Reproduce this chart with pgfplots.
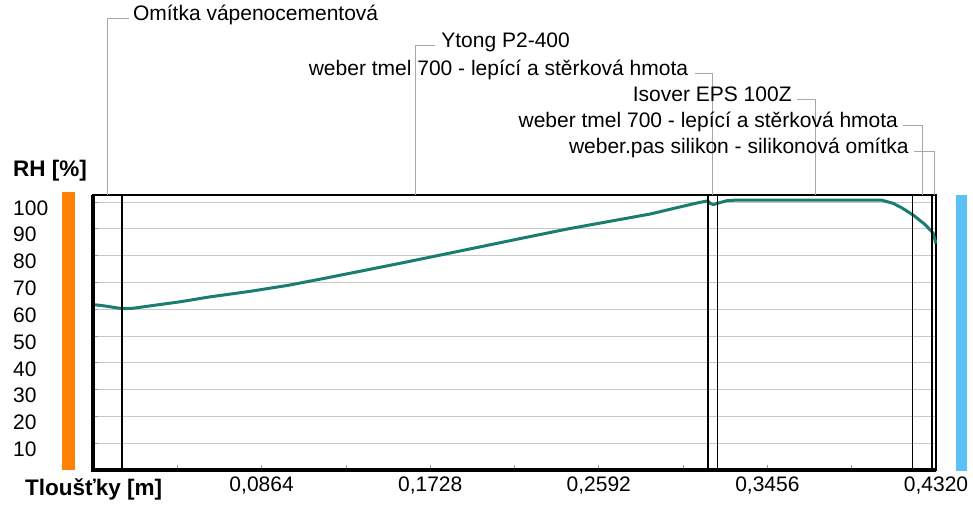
\documentclass[border=0pt]{standalone}
\usepackage{fontspec}
\setmainfont{Liberation Sans}
\usepackage{pgfplots}
\pgfplotsset{compat=1.18}
\usepackage{pgfplotstable}
\definecolor{curvecol}{HTML}{197D72}
\definecolor{orangebar}{HTML}{FF8205}
\definecolor{bluebar}{HTML}{5AC0F5}
\definecolor{gridcol}{HTML}{C8C8C8}
\definecolor{leadcol}{HTML}{A8A8A8}

\pgfplotstableread{
x rh
0.0000 61.7
0.0040 61.4
0.0080 61.0
0.0120 60.5
0.0155 60.2
0.0200 60.3
0.0300 61.3
0.0450 62.8
0.0600 64.6
0.0800 66.6
0.1000 68.9
0.1200 71.7
0.1400 74.6
0.1600 77.5
0.1800 80.5
0.2000 83.5
0.2200 86.5
0.2430 89.9
0.2650 92.8
0.2855 95.5
0.3000 98.0
0.3100 99.7
0.3150 100.4
0.3165 99.4
0.3180 99.0
0.3200 99.5
0.3250 100.5
0.3300 100.7
0.4040 100.7
0.4100 99.5
0.4145 97.8
0.4205 95.0
0.4265 91.5
0.4305 88.4
0.4320 84.5
}\rhdata

\tikzset{lead/.style={draw=leadcol, line width=0.8pt},
  lbl/.style={font=\fontsize{21}{25}\selectfont, inner sep=0pt}}

\begin{document}
\begin{tikzpicture}
\path[use as bounding box] (0pt,0pt) rectangle (973pt,508pt);
\fill[orangebar] (62pt,38pt) rectangle (75pt,316pt);
\fill[bluebar] (956pt,37pt) rectangle (967pt,313pt);
\node[anchor=west, inner sep=0pt, font=\bfseries\fontsize{22.5}{26}\selectfont] at (13pt,337pt) {RH [\%]};
\node[anchor=west, inner sep=0pt, font=\bfseries\fontsize{22.5}{26}\selectfont] at (25pt,19pt) {Tloušťky [m]};
\begin{axis}[
  at={(93pt,38pt)}, anchor=south west,
  scale only axis, width=843pt, height=275pt,
  xmin=0, xmax=0.432, ymin=0, ymax=102.6,
  clip=false,
  axis line style={black, line width=1.6pt},
  ymajorgrids=true,
  grid style={gridcol, line width=0.8pt},
  ytick={10,20,...,100},
  xtick={0.0864,0.1728,0.2592,0.3456,0.432},
  minor xtick={0.0432,0.1296,0.216,0.3024,0.3888},
  tick pos=left, tick align=inside,
  major tick length=5pt, minor tick length=5pt,
  tick style={gray!80, line width=0.8pt},
  /pgf/number format/assume math mode=true,
  tick label style={font=\fontsize{21}{25}\selectfont},
  yticklabel style={anchor=west, inner sep=0pt, xshift=-80pt, yshift=-6pt},
  xticklabel style={yshift=-3pt, /pgf/number format/.cd, fixed, fixed zerofill, precision=4, use comma},
]
\addplot[curvecol, line width=3pt, line join=round] table[x=x, y=rh] {\rhdata};
\addplot[black, line width=1.7pt, forget plot] coordinates {(0.015,0) (0.015,102.6)};
\addplot[black, line width=1.7pt, forget plot] coordinates {(0.315,0) (0.315,102.6)};
\addplot[black, line width=1.7pt, forget plot] coordinates {(0.320,0) (0.320,102.6)};
\addplot[black, line width=1.7pt, forget plot] coordinates {(0.420,0) (0.420,102.6)};
\addplot[black, line width=1.7pt, forget plot] coordinates {(0.430,0) (0.430,102.6)};
\draw[black, line width=3.2pt] (rel axis cs:0,1) -- (rel axis cs:0,0) -- (rel axis cs:1,0);
% leader lines and layer names
\draw[lead] (axis cs:0.0075,102.6) -- ++(0pt,177pt) -- ++(21pt,0pt) node[lbl, anchor=mid west, xshift=4pt] {Omítka vápenocementová};
\draw[lead] (axis cs:0.165,102.6) -- ++(0pt,150pt) -- ++(20pt,0pt) node[lbl, anchor=mid west, xshift=6pt] {Ytong P2-400};
\draw[lead] (axis cs:0.3175,102.6) -- ++(0pt,122pt) -- ++(-18pt,0pt) node[lbl, anchor=mid east, xshift=-6pt] {weber tmel 700 - lepící a stěrková hmota};
\draw[lead] (axis cs:0.370,102.6) -- ++(0pt,96pt) -- ++(-18pt,0pt) node[lbl, anchor=mid east, xshift=-5pt] {Isover EPS 100Z};
\draw[lead] (axis cs:0.425,102.6) -- ++(0pt,70pt) -- ++(-19pt,0pt) node[lbl, anchor=mid east, xshift=-5pt] {weber tmel 700 - lepící a stěrková hmota};
\draw[lead] (axis cs:0.431,102.6) -- ++(0pt,44pt) -- ++(-20pt,0pt) node[lbl, anchor=mid east, xshift=-5pt] {weber.pas silikon - silikonová omítka};
\end{axis}
\end{tikzpicture}
\end{document}
